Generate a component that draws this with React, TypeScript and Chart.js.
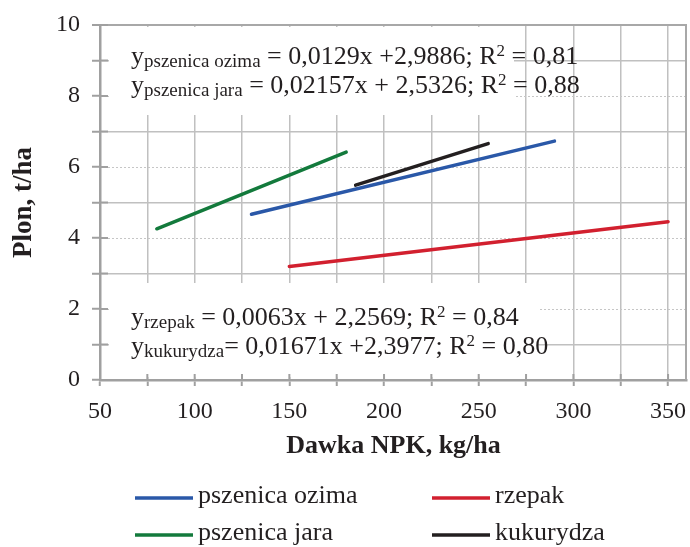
import React, { useEffect, useRef } from "react";
import { Chart, registerables } from "chart.js";
Chart.register(...registerables);

// ---- data ----
const seriesNames = ["pszenica ozima", "pszenica jara", "rzepak", "kukurydza"];
const seriesColors = ["#2a58a8", "#137a3c", "#d2202f", "#231f20"];
const ozimaX = [130, 290];
const ozimaY = [4.67, 6.73];
const jaraX = [80, 180];
const jaraY = [4.26, 6.42];
const rzepakX = [150, 350];
const rzepakY = [3.2, 4.46];
const kukurydzaX = [185, 255];
const kukurydzaY = [5.49, 6.66];

const xTicks = [50, 75, 100, 125, 150, 175, 200, 225, 250, 275, 300, 325, 350];
const xLabels = [50, 100, 150, 200, 250, 300, 350];
const yLabels = [0, 2, 4, 6, 8, 10];

const xTitle = "Dawka NPK, kg/ha";
const yTitle = "Plon, t/ha";

type Part = [string, "m" | "sub" | "sup"];
const eqOzima: Part[] = [["y", "m"], ["pszenica ozima", "sub"], [" = 0,0129x +2,9886; R", "m"], ["2", "sup"], [" = 0,81", "m"]];
const eqJara: Part[] = [["y", "m"], ["pszenica jara", "sub"], [" = 0,02157x + 2,5326; R", "m"], ["2", "sup"], [" = 0,88", "m"]];
const eqRzepak: Part[] = [["y", "m"], ["rzepak", "sub"], [" = 0,0063x + 2,2569; R", "m"], ["2", "sup"], [" = 0,84", "m"]];
const eqKukurydza: Part[] = [["y", "m"], ["kukurydza", "sub"], ["= 0,01671x +2,3977; R", "m"], ["2", "sup"], [" = 0,80", "m"]];

const FONT = '"Liberation Serif", "Times New Roman", serif';
const TEXT = "#231f20";

function toPts(xs: number[], ys: number[]) {
  return xs.map((x, i) => ({ x, y: ys[i] }));
}

function drawEq(ctx: CanvasRenderingContext2D, x: number, base: number, parts: Part[]) {
  let cx = x;
  ctx.fillStyle = TEXT;
  ctx.textBaseline = "alphabetic";
  ctx.textAlign = "left";
  for (const [t, k] of parts) {
    let size = 26;
    let dy = 0;
    if (k === "sub") { size = 19; dy = 3; }
    if (k === "sup") { size = 17; dy = -8; }
    ctx.font = `${size}px ${FONT}`;
    ctx.fillText(t, cx, base + dy);
    cx += ctx.measureText(t).width;
  }
}

function seg(ctx: CanvasRenderingContext2D, x1: number, y1: number, x2: number, y2: number) {
  ctx.beginPath();
  ctx.moveTo(x1, y1);
  ctx.lineTo(x2, y2);
  ctx.stroke();
}

const decorPlugin = {
  id: "decor",
  beforeDatasetsDraw(chart: any) {
    const { ctx, chartArea: a, scales } = chart;
    const xs = scales.x;
    const ys = scales.y;
    ctx.save();
    // dotted major gridlines
    ctx.strokeStyle = "#c6c6c6";
    ctx.lineWidth = 1;
    ctx.setLineDash([2, 2]);
    for (const v of yLabels) {
      if (v === 0 || v === 10) continue;
      const py = Math.round(ys.getPixelForValue(v)) + 0.5;
      seg(ctx, a.left, py, a.right, py);
    }
    ctx.setLineDash([]);
    // right border
    ctx.strokeStyle = "#a8a8a8";
    ctx.lineWidth = 2;
    seg(ctx, a.right - 1, a.top, a.right - 1, a.bottom);
    // white text boxes
    ctx.fillStyle = "#ffffff";
    ctx.fillRect(a.left + 9, a.top + 2, 514 - (a.left + 9), 115 - (a.top + 2));
    ctx.fillRect(a.left + 9, 283, 538 - (a.left + 9), a.bottom - 3 - 283);
    // inner halves of crossing tick marks
    ctx.strokeStyle = "#a0a0a0";
    ctx.lineWidth = 2;
    for (const v of xTicks) {
      const px = xs.getPixelForValue(v);
      seg(ctx, px, a.bottom, px, a.bottom - 6);
    }
    for (let v = 0; v <= 10; v++) {
      const py = ys.getPixelForValue(v);
      seg(ctx, a.left, py, a.left + 8, py);
    }
    ctx.restore();
  },
  afterDatasetsDraw(chart: any) {
    const { ctx } = chart;
    ctx.save();
    drawEq(ctx, 131, 64, eqOzima);
    drawEq(ctx, 131, 93, eqJara);
    drawEq(ctx, 131, 325, eqRzepak);
    drawEq(ctx, 131, 354, eqKukurydza);
    // legend
    const order = [0, 2, 1, 3];
    const pos = [[135, 498], [432, 498], [135, 535], [432, 535]];
    order.forEach((si, i) => {
      const [lx, ly] = pos[i];
      ctx.strokeStyle = seriesColors[si];
      ctx.lineWidth = 3.5;
      seg(ctx, lx, ly, lx + 58, ly);
      ctx.fillStyle = TEXT;
      ctx.font = `26px ${FONT}`;
      ctx.textBaseline = "middle";
      ctx.textAlign = "left";
      ctx.fillText(seriesNames[si], lx + 63, ly - 2);
    });
    ctx.restore();
  },
};

export default function App() {
  const ref = useRef<HTMLCanvasElement>(null);
  useEffect(() => {
    document.body.style.margin = "0";
    const canvas = ref.current!;
    const series = [toPts(ozimaX, ozimaY), toPts(jaraX, jaraY), toPts(rzepakX, rzepakY), toPts(kukurydzaX, kukurydzaY)];
    const chart = new Chart(canvas, {
      type: "scatter",
      data: {
        datasets: series.map((d, i) => ({
          label: seriesNames[i],
          data: d,
          showLine: true,
          borderColor: seriesColors[i],
          backgroundColor: seriesColors[i],
          borderWidth: 3.5,
          pointRadius: 0,
          borderCapStyle: "round" as const,
        })),
      },
      options: {
        responsive: false,
        animation: false,
        events: [],
        layout: { padding: { top: 25, right: 3, bottom: 82, left: 0 } },
        plugins: { legend: { display: false }, tooltip: { enabled: false } },
        scales: {
          x: {
            type: "linear",
            min: 50,
            max: 360,
            afterBuildTicks: (s: any) => { s.ticks = xTicks.map((v) => ({ value: v })); },
            afterFit: (s: any) => { s.height = 85; s.paddingLeft = 0; s.paddingRight = 0; },
            ticks: {
              autoSkip: false,
              maxRotation: 0,
              padding: 11,
              color: TEXT,
              font: { family: FONT, size: 24 },
              callback: (v: any) => (xLabels.includes(Number(v)) ? String(v) : ""),
            },
            grid: { color: "#c0c0c0", lineWidth: 1.5, tickColor: "#a0a0a0", tickLength: 6, tickWidth: 2 },
            border: { color: "#a0a0a0", width: 2.5 },
            title: { display: true, text: xTitle, color: TEXT, font: { family: FONT, size: 26, weight: "bold" }, padding: { top: 4, bottom: 3 } },
          },
          y: {
            min: 0,
            max: 10,
            afterFit: (s: any) => { s.width = 100; s.paddingTop = 0; s.paddingBottom = 0; },
            ticks: {
              stepSize: 1,
              autoSkip: false,
              padding: 12,
              color: TEXT,
              font: { family: FONT, size: 24 },
              callback: (v: any) => (yLabels.includes(Number(v)) ? String(v) : ""),
            },
            grid: {
              color: (c: any) => {
                const v = c.tick?.value;
                if (v === 10) return "#a8a8a8";
                if (v % 2 === 1) return "#c0c0c0";
                return "rgba(0,0,0,0)";
              },
              lineWidth: (c: any) => (c.tick?.value === 10 ? 2 : 1.5),
              tickColor: "#a0a0a0",
              tickLength: 8,
              tickWidth: 2,
            },
            border: { color: "#a0a0a0", width: 2.5 },
            title: { display: true, text: yTitle, color: TEXT, font: { family: FONT, size: 27, weight: "bold" }, padding: { top: 8, bottom: 4 } },
          },
        },
      },
      plugins: [decorPlugin],
    } as any);
    return () => chart.destroy();
  }, []);
  return <canvas ref={ref} width={690} height={547} style={{ display: "block" }} />;
}
